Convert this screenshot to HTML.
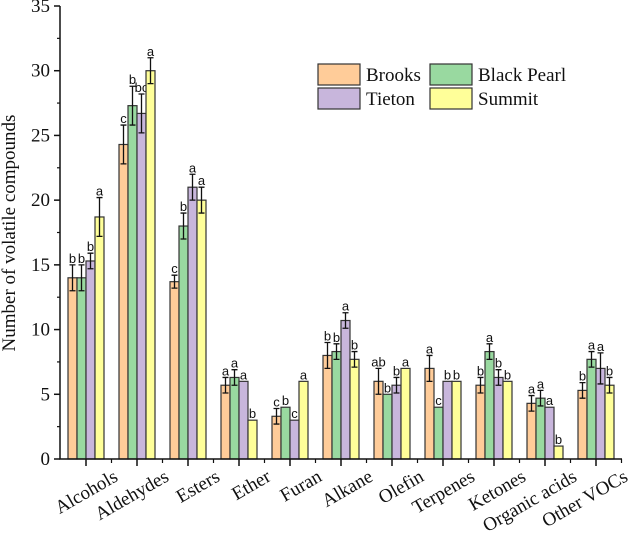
<!DOCTYPE html>
<html><head><meta charset="utf-8"><style>
body{margin:0;background:#fff}
svg text{font-family:"Liberation Serif",serif;fill:#111}
</style></head><body>
<svg id="c" width="628" height="535" xmlns="http://www.w3.org/2000/svg"></svg>
<script>
const categories=["Alcohols","Aldehydes","Esters","Ether","Furan","Alkane","Olefin","Terpenes","Ketones","Organic acids","Other VOCs"];
const seriesNames=["Brooks","Black Pearl","Tieton","Summit"];
const brooks=[14,24.3,13.7,5.7,3.3,8,6,7,5.7,4.3,5.3];
const blackPearl=[14,27.3,18,6.3,4,8.3,5,4,8.3,4.7,7.7];
const tieton=[15.3,26.7,21,6,3,10.7,5.7,6,6.3,4,7];
const summit=[18.7,30,20,3,6,7.7,7,6,6,1,5.7];
const errBrooks=[1,1.5,0.5,0.6,0.6,1,1,1,0.6,0.6,0.6];
const errBlackPearl=[1,1.5,1,0.6,0,0.6,0,0,0.6,0.6,0.6];
const errTieton=[0.6,1.5,1,0,0,0.6,0.6,0,0.6,0,1.2];
const errSummit=[1.5,1,1,0,0,0.6,0,0,0,0,0.6];
const letBrooks=["b","c","c","a","c","b","ab","a","b","a","b"];
const letBlackPearl=["b","b","b","a","b","b","b","c","a","a","a"];
const letTieton=["b","bc","a","a","c","a","b","b","b","a","a"];
const letSummit=["a","a","a","b","a","b","a","b","b","b","b"];
const yTicks=[0,5,10,15,20,25,30,35];
const values=[brooks,blackPearl,tieton,summit];
const errs=[errBrooks,errBlackPearl,errTieton,errSummit];
const lets=[letBrooks,letBlackPearl,letTieton,letSummit];
const colors=["#FFCC99","#99D9A0","#C8B6DC","#FFFF99"];
const svg=document.getElementById('c');
const NS="http://www.w3.org/2000/svg";
const x0=60,y0=459,yTop=6,ymax=35,step=51,first=86,bw=9;
const Y=v=>y0-(v/ymax)*(y0-yTop);
const X=i=>first+i*step;
function mk(t,a,txt){const e=document.createElementNS(NS,t);for(const k in a)e.setAttribute(k,a[k]);if(txt!==undefined)e.textContent=txt;svg.appendChild(e);return e;}
values.forEach((arr,s)=>{arr.forEach((v,i)=>{
  const bx=X(i)-2*bw+s*bw;
  const r=mk('rect',{x:bx,y:Y(v),width:bw,height:y0-Y(v),fill:colors[s],stroke:'#333','stroke-width':1.2});
  
  
  const e=errs[s][i],cx=bx+bw/2;
  if(e>0){
    const g=mk('path',{d:`M${cx},${Y(v+e)}V${Y(v-e)}M${cx-3},${Y(v+e)}H${cx+3}M${cx-3},${Y(v-e)}H${cx+3}`,stroke:'#111','stroke-width':1.3,fill:'none'});
    
    
  }
  const t=mk('text',{x:cx,y:Y(v+e)-2,'text-anchor':'middle','font-size':13,style:'font-family:"Liberation Sans",sans-serif'},lets[s][i]);
  
  
});});
const ax=mk('path',{d:`M${x0},${yTop}V${y0}H622`,stroke:'#111','stroke-width':1.5,fill:'none'});


yTicks.forEach(v=>{
  mk('line',{x1:x0-6,x2:x0,y1:Y(v),y2:Y(v),stroke:'#111','stroke-width':1.5});
  if(v<35)mk('line',{x1:x0-3,x2:x0,y1:Y(v+2.5),y2:Y(v+2.5),stroke:'#111','stroke-width':1.2});
  const t=mk('text',{x:x0-10,y:Y(v)+6,'text-anchor':'end','font-size':19},v);
  
  
});
categories.forEach((c,i)=>{
  mk('line',{x1:X(i),x2:X(i),y1:y0,y2:y0+7,stroke:'#111','stroke-width':1.5});
  mk('line',{x1:X(i)+step/2,x2:X(i)+step/2,y1:y0,y2:y0+4,stroke:'#111','stroke-width':1.2});
  const lx=X(i)+33,ly=y0+21;
  const t=mk('text',{x:lx,y:ly,'text-anchor':'end','font-size':19,transform:`rotate(-30 ${lx} ${ly})`},c);
  
  
});
const yt=mk('text',{x:0,y:0,'text-anchor':'middle','font-size':19,transform:'translate(15,233) rotate(-90)'},'Number of volatile compounds');


const lp=[[318,64],[430,64],[318,88],[430,88]];
[0,1,2,3].forEach((s,k)=>{
  const [lx,ly]=lp[k];
  const r=mk('rect',{x:lx,y:ly,width:42,height:21,fill:colors[s],stroke:'#333','stroke-width':1.2});
  
  
  const t=mk('text',{x:lx+48,y:ly+17,'font-size':19},seriesNames[s]);
  
  
});
</script>
</body></html>
